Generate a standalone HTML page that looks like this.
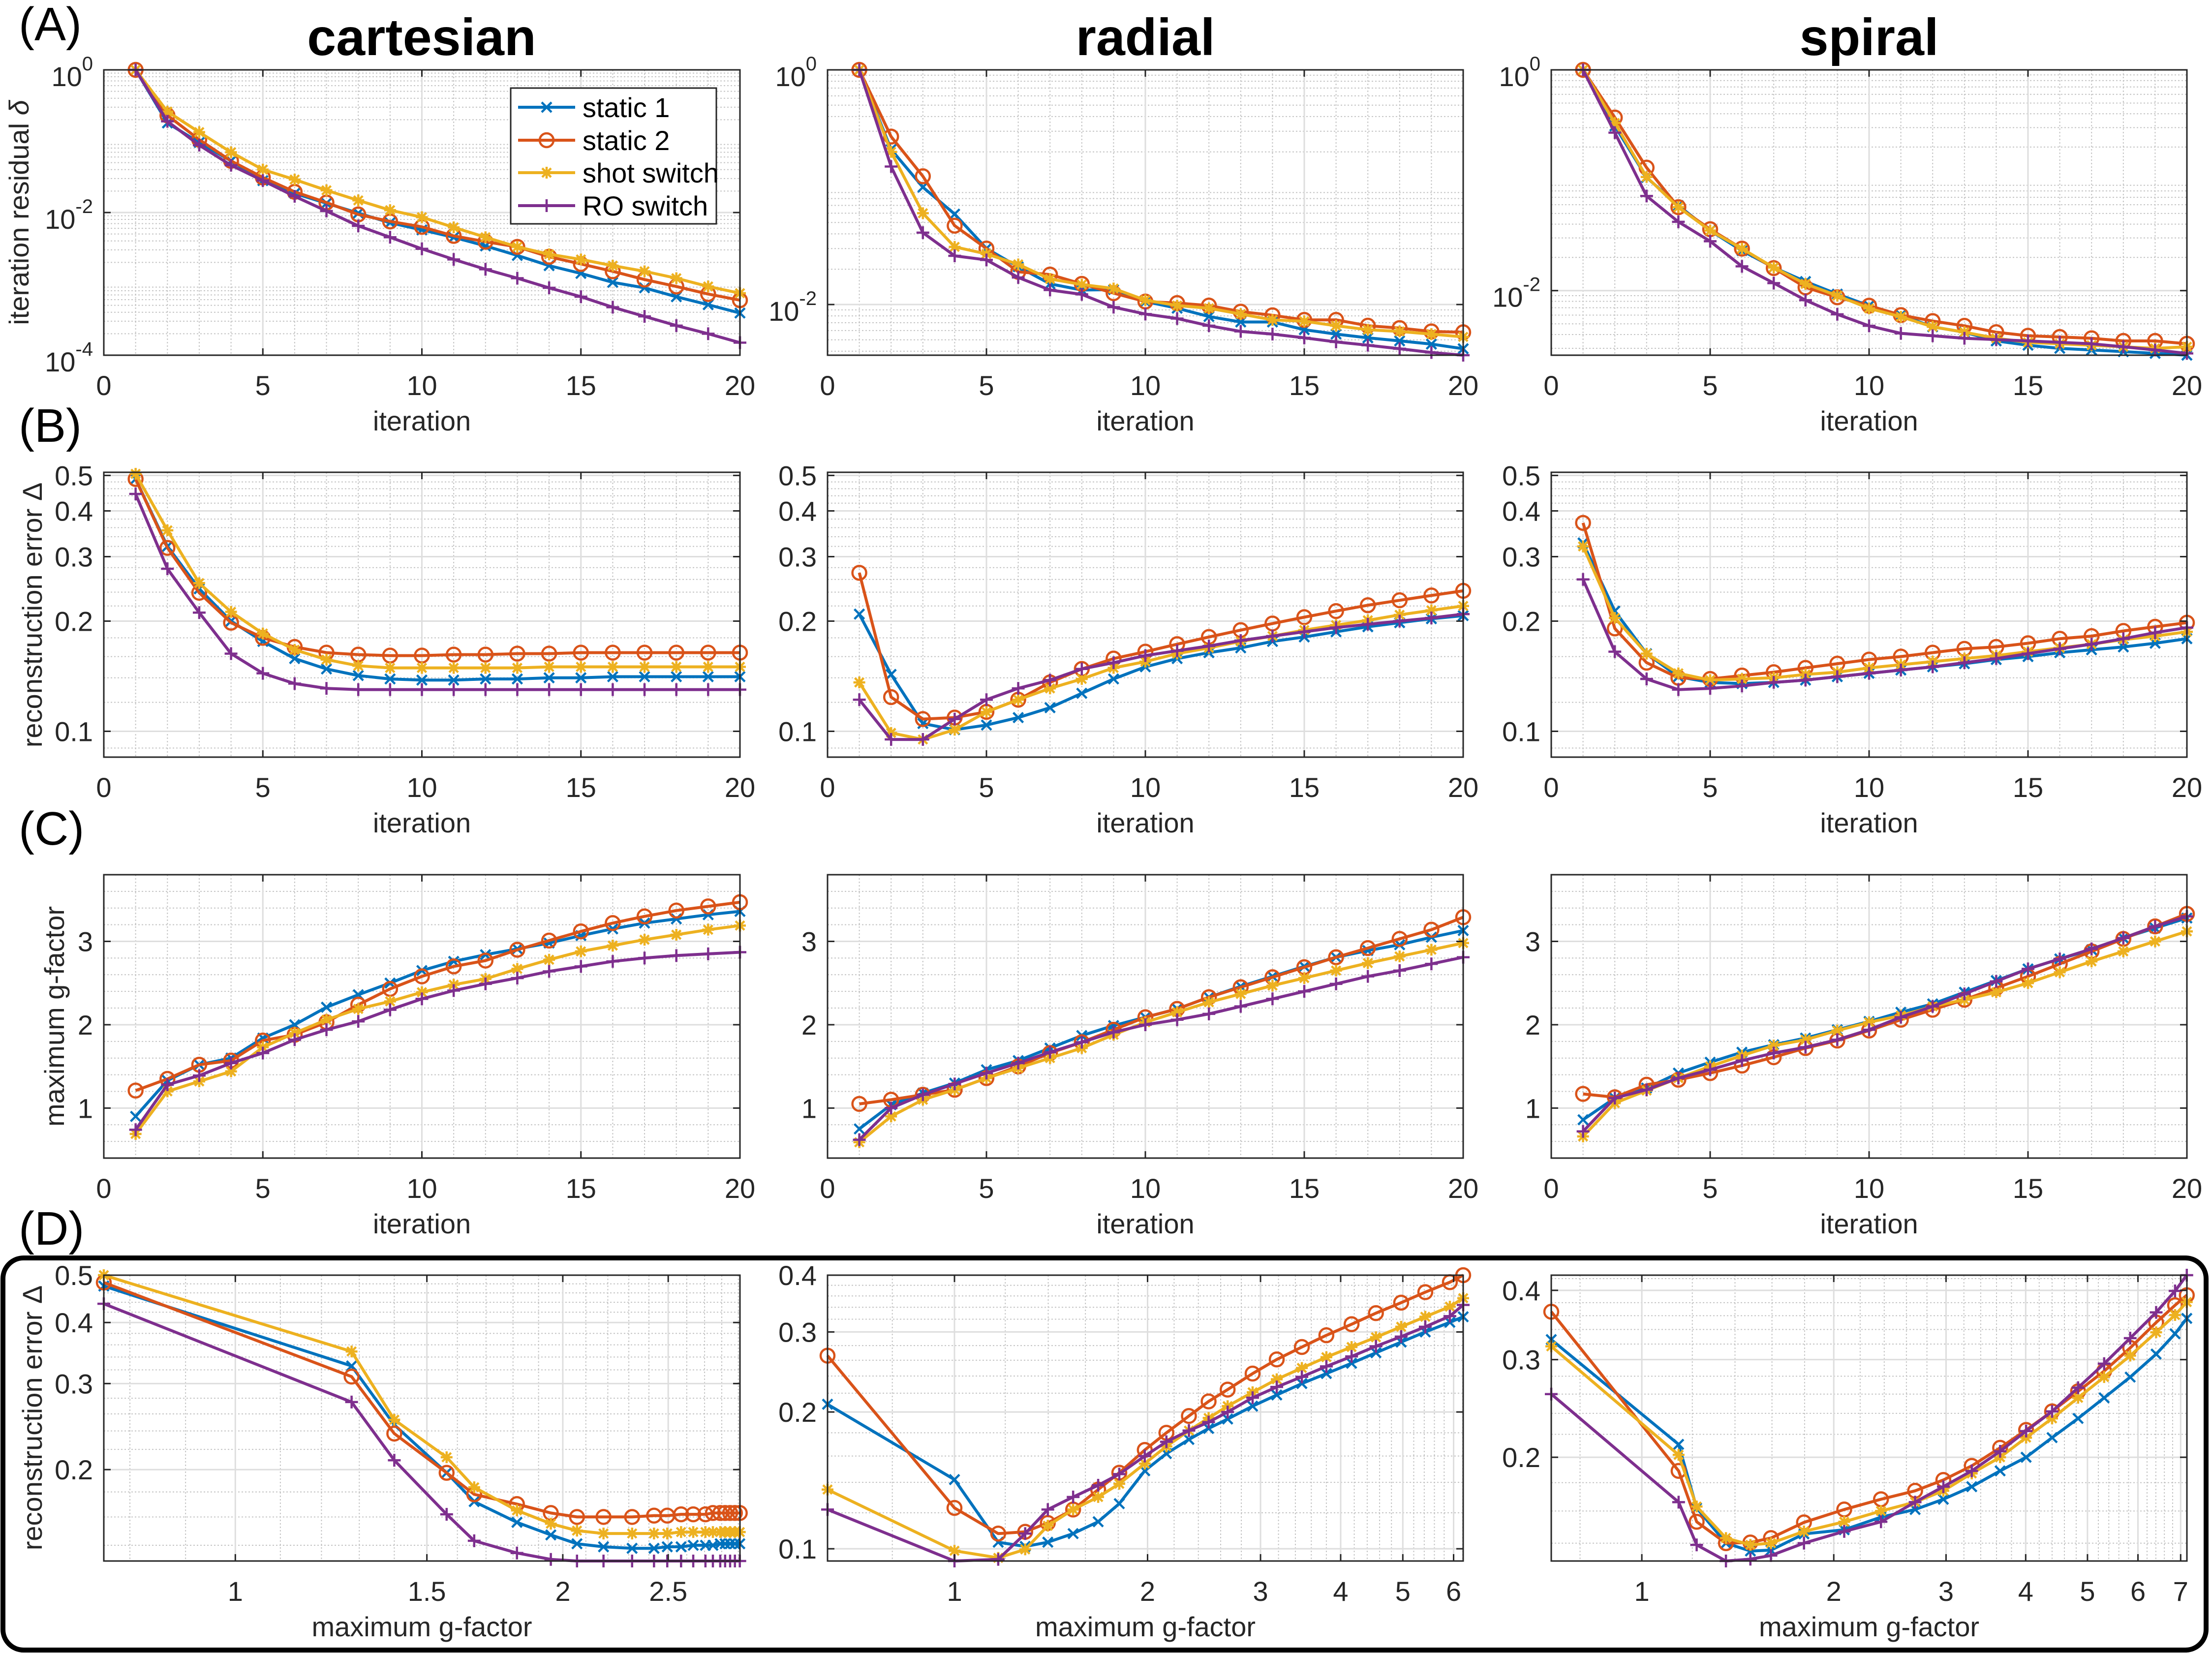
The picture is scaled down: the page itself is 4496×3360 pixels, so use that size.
<!DOCTYPE html>
<html>
<head>
<meta charset="utf-8">
<style>
  html, body { margin: 0; padding: 0; background: #ffffff; }
  svg { display: block; font-family: "Liberation Sans", Arial, sans-serif; }
</style>
</head>
<body>
<svg id="fig" xmlns="http://www.w3.org/2000/svg" width="4496" height="3360" viewBox="0 0 4496 3360">
  <rect x="0" y="0" width="4496" height="3360" fill="#ffffff"/>
</svg>
<script>
// ---------------- DATA ----------------
const iterations = [1,2,3,4,5,6,7,8,9,10,11,12,13,14,15,16,17,18,19,20];
const seriesNames = ['static 1','static 2','shot switch','RO switch'];

// Row A: iteration residual
const residualCartesianStatic1 = [1,0.18,0.096,0.053,0.028,0.0185,0.0135,0.0098,0.0072,0.0057,0.0045,0.0034,0.0025,0.0018,0.0014,0.00105,0.00088,0.00066,0.00051,0.00039];
const residualCartesianStatic2 = [1,0.23,0.105,0.053,0.031,0.0195,0.0138,0.0094,0.0075,0.0063,0.0047,0.0039,0.0033,0.0024,0.0019,0.0015,0.00115,0.00092,0.00072,0.00059];
const residualCartesianShot = [1,0.26,0.134,0.07,0.04,0.029,0.0205,0.0148,0.0108,0.0086,0.0062,0.0045,0.0033,0.0026,0.0022,0.0018,0.0015,0.0012,0.00092,0.00074];
const residualCartesianRO = [1,0.19,0.088,0.046,0.028,0.0169,0.0105,0.0065,0.0045,0.0031,0.0022,0.0016,0.0012,0.00088,0.00066,0.00047,0.00035,0.00026,0.0002,0.00015];

const residualRadialStatic1 = [1,0.21,0.1,0.059,0.030,0.021,0.015,0.0133,0.0134,0.0106,0.0093,0.0079,0.0071,0.0071,0.0061,0.0056,0.0052,0.0049,0.0046,0.0042];
const residualRadialStatic2 = [1,0.27,0.124,0.047,0.030,0.019,0.018,0.015,0.0125,0.0106,0.0103,0.0098,0.0087,0.0081,0.0074,0.0074,0.0066,0.0063,0.0059,0.0058];
const residualRadialShot = [1,0.2,0.06,0.031,0.027,0.022,0.0165,0.0148,0.0137,0.0109,0.0098,0.0093,0.0083,0.0074,0.0072,0.0066,0.0061,0.0059,0.0056,0.0053];
const residualRadialRO = [1,0.15,0.041,0.026,0.024,0.017,0.0133,0.0122,0.0095,0.0083,0.0076,0.0066,0.0059,0.0056,0.0052,0.0048,0.0045,0.0042,0.0039,0.0037];

const residualSpiralStatic1 = [1,0.31,0.106,0.059,0.035,0.023,0.0162,0.0121,0.0093,0.0073,0.006,0.0047,0.0042,0.0035,0.0032,0.003,0.0029,0.0028,0.0027,0.0026];
const residualSpiralStatic2 = [1,0.37,0.13,0.057,0.036,0.024,0.016,0.0107,0.0087,0.0073,0.006,0.0053,0.0048,0.0042,0.0039,0.0038,0.0037,0.0035,0.0035,0.0033];
const residualSpiralShot = [1,0.33,0.107,0.057,0.035,0.024,0.0162,0.0115,0.009,0.0069,0.0058,0.0047,0.0042,0.0037,0.0034,0.0033,0.0032,0.0031,0.003,0.0031];
const residualSpiralRO = [1,0.27,0.072,0.042,0.028,0.0166,0.0117,0.0082,0.0061,0.0048,0.0041,0.0039,0.0037,0.0036,0.0035,0.0034,0.0033,0.0031,0.0029,0.0027];

// Row B: reconstruction error vs iteration
const errorCartesianStatic1 = [0.489,0.32,0.245,0.2,0.176,0.158,0.148,0.142,0.139,0.138,0.138,0.139,0.139,0.14,0.14,0.141,0.141,0.141,0.141,0.141];
const errorCartesianStatic2 = [0.489,0.317,0.239,0.198,0.18,0.17,0.164,0.162,0.161,0.161,0.162,0.162,0.163,0.163,0.164,0.164,0.164,0.164,0.164,0.164];
const errorCartesianShot = [0.505,0.354,0.254,0.212,0.185,0.167,0.157,0.151,0.149,0.149,0.149,0.149,0.149,0.15,0.15,0.15,0.15,0.15,0.15,0.15];
const errorCartesianRO = [0.445,0.278,0.211,0.163,0.144,0.135,0.131,0.13,0.13,0.13,0.13,0.13,0.13,0.13,0.13,0.13,0.13,0.13,0.13,0.13];

const errorRadialStatic1 = [0.209,0.143,0.105,0.101,0.104,0.109,0.116,0.127,0.139,0.15,0.158,0.164,0.169,0.176,0.181,0.187,0.193,0.198,0.203,0.207];
const errorRadialStatic2 = [0.271,0.124,0.108,0.109,0.113,0.122,0.136,0.148,0.158,0.165,0.173,0.181,0.189,0.197,0.205,0.213,0.221,0.228,0.235,0.242];
const errorRadialShot = [0.136,0.099,0.095,0.101,0.113,0.122,0.131,0.139,0.149,0.155,0.163,0.169,0.176,0.182,0.189,0.195,0.201,0.208,0.214,0.22];
const errorRadialRO = [0.122,0.095,0.095,0.108,0.122,0.131,0.138,0.148,0.154,0.161,0.166,0.171,0.177,0.182,0.187,0.192,0.196,0.2,0.204,0.209];

const errorSpiralStatic1 = [0.327,0.213,0.163,0.141,0.136,0.135,0.136,0.138,0.141,0.144,0.147,0.15,0.153,0.157,0.16,0.164,0.167,0.17,0.174,0.179];
const errorSpiralStatic2 = [0.371,0.191,0.154,0.14,0.139,0.142,0.145,0.149,0.153,0.157,0.16,0.164,0.168,0.17,0.174,0.179,0.182,0.188,0.193,0.198];
const errorSpiralShot = [0.32,0.204,0.163,0.144,0.138,0.139,0.14,0.143,0.145,0.149,0.152,0.155,0.158,0.161,0.165,0.169,0.173,0.178,0.182,0.187];
const errorSpiralRO = [0.26,0.165,0.139,0.13,0.131,0.133,0.136,0.138,0.141,0.144,0.147,0.15,0.154,0.158,0.163,0.168,0.173,0.179,0.186,0.192];

// Row C: maximum g-factor vs iteration
const gfactorCartesianStatic1 = [0.9,1.33,1.52,1.6,1.84,2.0,2.21,2.36,2.5,2.65,2.76,2.84,2.91,2.98,3.07,3.15,3.22,3.27,3.32,3.36];
const gfactorCartesianStatic2 = [1.21,1.35,1.52,1.57,1.81,1.88,2.03,2.24,2.43,2.58,2.7,2.77,2.9,3.01,3.12,3.22,3.3,3.37,3.42,3.47];
const gfactorCartesianShot = [0.69,1.2,1.32,1.44,1.73,1.9,2.06,2.19,2.28,2.39,2.48,2.55,2.67,2.78,2.88,2.95,3.02,3.08,3.14,3.19];
const gfactorCartesianRO = [0.74,1.28,1.39,1.54,1.66,1.82,1.94,2.04,2.18,2.31,2.41,2.49,2.56,2.64,2.7,2.76,2.8,2.83,2.85,2.87];

const gfactorRadialStatic1 = [0.75,1.04,1.18,1.3,1.46,1.57,1.72,1.87,1.99,2.09,2.19,2.33,2.46,2.58,2.7,2.81,2.89,2.96,3.05,3.13];
const gfactorRadialStatic2 = [1.05,1.1,1.16,1.22,1.36,1.5,1.66,1.79,1.94,2.09,2.19,2.33,2.45,2.57,2.69,2.81,2.92,3.03,3.14,3.29];
const gfactorRadialShot = [0.59,0.9,1.1,1.22,1.36,1.48,1.6,1.72,1.88,2.03,2.15,2.27,2.37,2.47,2.56,2.65,2.74,2.82,2.9,2.98];
const gfactorRadialRO = [0.62,1.0,1.16,1.29,1.42,1.54,1.67,1.79,1.91,2.0,2.06,2.13,2.22,2.31,2.4,2.49,2.58,2.65,2.73,2.81];

const gfactorSpiralStatic1 = [0.86,1.12,1.24,1.42,1.55,1.67,1.76,1.84,1.94,2.04,2.15,2.25,2.39,2.53,2.67,2.79,2.9,3.04,3.16,3.28];
const gfactorSpiralStatic2 = [1.17,1.13,1.28,1.34,1.42,1.51,1.61,1.72,1.81,1.93,2.06,2.18,2.3,2.44,2.58,2.73,2.88,3.03,3.18,3.33];
const gfactorSpiralShot = [0.66,1.06,1.21,1.36,1.5,1.63,1.75,1.82,1.93,2.03,2.11,2.22,2.3,2.39,2.5,2.63,2.76,2.88,3.0,3.12];
const gfactorSpiralRO = [0.72,1.12,1.22,1.36,1.46,1.57,1.66,1.73,1.82,1.94,2.09,2.22,2.37,2.52,2.67,2.79,2.91,3.04,3.18,3.3];

// Row D: reconstruction error vs maximum g-factor
const tradeoffCartesianG = [0.757,1.279,1.4,1.564,1.658,1.815,1.95,2.061,2.18,2.316,2.426,2.495,2.569,2.636,2.705,2.748,2.791,2.82,2.85,2.879,2.909];
const tradeoffCartesianStatic1 = [0.475,0.326,0.247,0.197,0.172,0.156,0.147,0.141,0.139,0.138,0.138,0.139,0.139,0.14,0.14,0.14,0.141,0.141,0.141,0.141,0.141];
const tradeoffCartesianStatic2 = [0.483,0.31,0.237,0.197,0.178,0.170,0.163,0.160,0.160,0.160,0.161,0.161,0.162,0.162,0.162,0.163,0.163,0.163,0.163,0.163,0.163];
const tradeoffCartesianShot = [0.5,0.349,0.253,0.212,0.184,0.165,0.155,0.150,0.148,0.148,0.148,0.148,0.149,0.149,0.149,0.149,0.149,0.149,0.149,0.149,0.149];
const tradeoffCartesianRO = [0.437,0.275,0.209,0.162,0.143,0.135,0.131,0.13,0.13,0.13,0.13,0.13,0.13,0.13,0.13,0.13,0.13,0.13,0.13,0.13,0.13];

const tradeoffRadialG = [0.634,1.0,1.17,1.289,1.398,1.531,1.675,1.807,1.98,2.14,2.32,2.49,2.666,2.916,3.18,3.48,3.8,4.16,4.54,4.97,5.42,5.92,6.21];
const tradeoffRadialStatic1 = [0.208,0.142,0.1034,0.1012,0.1034,0.108,0.1147,0.1257,0.1485,0.162,0.174,0.184,0.193,0.206,0.218,0.231,0.243,0.256,0.27,0.285,0.3,0.315,0.324];
const tradeoffRadialStatic2 = [0.266,0.123,0.108,0.109,0.114,0.122,0.135,0.147,0.165,0.180,0.196,0.211,0.224,0.243,0.261,0.278,0.295,0.312,0.330,0.348,0.367,0.386,0.4];
const tradeoffRadialShot = [0.135,0.099,0.0955,0.0997,0.1124,0.122,0.13,0.139,0.154,0.168,0.182,0.194,0.206,0.221,0.236,0.25,0.264,0.278,0.292,0.308,0.324,0.341,0.356];
const tradeoffRadialRO = [0.122,0.094,0.0948,0.108,0.122,0.13,0.138,0.146,0.16,0.172,0.182,0.19,0.2,0.215,0.227,0.239,0.252,0.265,0.279,0.293,0.308,0.325,0.344];

const tradeoffSpiralG = [0.721,1.142,1.219,1.355,1.48,1.594,1.796,2.077,2.372,2.683,2.971,3.292,3.647,4.006,4.4,4.833,5.31,5.834,6.407,6.86,7.157];
const tradeoffSpiralStatic1 = [0.326,0.211,0.162,0.14,0.1355,0.136,0.1455,0.148,0.156,0.161,0.168,0.177,0.189,0.2,0.217,0.235,0.256,0.279,0.307,0.334,0.356];
const tradeoffSpiralStatic2 = [0.366,0.189,0.153,0.14,0.1404,0.143,0.1526,0.161,0.168,0.174,0.182,0.193,0.208,0.224,0.242,0.263,0.286,0.315,0.35,0.376,0.392];
const tradeoffSpiralShot = [0.317,0.202,0.163,0.143,0.139,0.14,0.147,0.153,0.16,0.166,0.174,0.187,0.2,0.217,0.235,0.256,0.279,0.305,0.336,0.361,0.381];
const tradeoffSpiralRO = [0.260,0.166,0.139,0.13,0.131,0.133,0.140,0.147,0.153,0.166,0.177,0.189,0.205,0.223,0.242,0.267,0.295,0.328,0.365,0.399,0.426];

// Tick values / labels
const iterationTicks = [0,5,10,15,20];
const iterationTickLabels = ['0','5','10','15','20'];
const residualTicksCartesian = [1,0.01,0.0001];
const residualTickLabelsCartesian = [['10','0'],['10','-2'],['10','-4']];
const residualTicksOther = [1,0.01];
const residualTickLabelsOther = [['10','0'],['10','-2']];
const errorTicks = [0.1,0.2,0.3,0.4,0.5];
const errorTickLabels = ['0.1','0.2','0.3','0.4','0.5'];
const gfactorTicks = [1,2,3];
const gfactorTickLabels = ['1','2','3'];
const tradeoffXTicksCartesian = [1,1.5,2,2.5];
const tradeoffXTickLabelsCartesian = ['1','1.5','2','2.5'];
const tradeoffXTicksRadial = [1,2,3,4,5,6];
const tradeoffXTickLabelsRadial = ['1','2','3','4','5','6'];
const tradeoffXTicksSpiral = [1,2,3,4,5,6,7];
const tradeoffXTickLabelsSpiral = ['1','2','3','4','5','6','7'];
const tradeoffYTicksCartesian = [0.2,0.3,0.4,0.5];
const tradeoffYTickLabelsCartesian = ['0.2','0.3','0.4','0.5'];
const tradeoffYTicksRadial = [0.1,0.2,0.3,0.4];
const tradeoffYTickLabelsRadial = ['0.1','0.2','0.3','0.4'];
const tradeoffYTicksSpiral = [0.2,0.3,0.4];
const tradeoffYTickLabelsSpiral = ['0.2','0.3','0.4'];

// ---------------- DRAWING ----------------
const NS = 'http://www.w3.org/2000/svg';
const svg = document.getElementById('fig');
const COLORS = ['#0072BD','#D95319','#EDB120','#7E2F8E'];
const MARKERS = ['x','o','*','+'];
const TXT = '#262626';

function el(tag, attrs, parent) {
  const e = document.createElementNS(NS, tag);
  for (const k in attrs) e.setAttribute(k, attrs[k]);
  (parent || svg).appendChild(e);
  return e;
}
function scale(type, d0, d1, p0, p1) {
  if (type === 'log') {
    const a = Math.log10(d0), b = Math.log10(d1);
    return v => p0 + (Math.log10(v) - a) / (b - a) * (p1 - p0);
  }
  return v => p0 + (v - d0) / (d1 - d0) * (p1 - p0);
}
function range(a, b, s) { const out = []; for (let v = a; v <= b + 1e-9; v += s) out.push(Math.round(v * 1000) / 1000); return out; }
function logMinor(d0, d1) {
  const out = [];
  for (let e = Math.floor(Math.log10(d0)); e <= Math.ceil(Math.log10(d1)); e++)
    for (let k = 2; k <= 9; k++) { const v = k * Math.pow(10, e); if (v > d0 && v < d1) out.push(v); }
  return out;
}

function drawMarker(g, type, x, y, color) {
  const sw = 4.5;
  let m;
  if (type === 'o') {
    m = el('circle', {cx: x, cy: y, r: 14, fill: 'none', stroke: color, 'stroke-width': sw}, g);
  } else {
    let d = '';
    if (type === 'x' || type === '*') { const s = type === 'x' ? 10 : 9; d += `M${x-s},${y-s}L${x+s},${y+s}M${x-s},${y+s}L${x+s},${y-s}`; }
    if (type === '+' || type === '*') { const s = type === '+' ? 13 : 12; d += `M${x-s},${y}L${x+s},${y}M${x},${y-s}L${x},${y+s}`; }
    m = el('path', {d: d, fill: 'none', stroke: color, 'stroke-width': sw}, g);
  }
  return m;
}

function drawPanel(p) {
  const g = el('g', {});
  
  
  const {l, r, t, b} = p.box;
  const sx = scale(p.xType, p.xDom[0], p.xDom[1], l, r);
  const sy = scale(p.yType, p.yDom[0], p.yDom[1], b, t);
  const inX = v => v > p.xDom[0] && v < p.xDom[1];
  const inY = v => v > p.yDom[0] && v < p.yDom[1];

  const bg = el('rect', {x: l, y: t, width: r - l, height: b - t, fill: '#ffffff'}, g);
  
  

  // grid
  const grid = el('g', {}, g);
  
  
  p.xMinor.forEach(v => { if (p.xTicks.indexOf(v) < 0 && inX(v)) { const X = sx(v); el('line', {x1: X, x2: X, y1: t, y2: b, stroke: '#c4c4c4', 'stroke-width': 2, 'stroke-dasharray': '3 4'}, grid); } });
  p.yMinor.forEach(v => { if (p.yTicks.indexOf(v) < 0 && inY(v)) { const Y = sy(v); el('line', {x1: l, x2: r, y1: Y, y2: Y, stroke: '#c4c4c4', 'stroke-width': 2, 'stroke-dasharray': '3 4'}, grid); } });
  p.xTicks.forEach(v => { const X = sx(v); el('line', {x1: X, x2: X, y1: t, y2: b, stroke: '#dedede', 'stroke-width': 3}, grid); });
  p.yTicks.forEach(v => { const Y = sy(v); el('line', {x1: l, x2: r, y1: Y, y2: Y, stroke: '#dedede', 'stroke-width': 3}, grid); });

  // series
  p.series.forEach((s, i) => {
    const sg = el('g', {}, g);
    
    
    const pts = s.y.map((v, k) => [sx(s.x[k]), sy(v)]);
    const line = el('polyline', {points: pts.map(q => q[0].toFixed(1) + ',' + q[1].toFixed(1)).join(' '), fill: 'none', stroke: COLORS[i], 'stroke-width': 6, 'stroke-linejoin': 'round'}, sg);
    
    
    pts.forEach(q => {
      const m = drawMarker(sg, MARKERS[i], q[0], q[1], COLORS[i]);
      
      
    });
  });

  // axes box + ticks
  const ax = el('g', {}, g);
  
  
  const box = el('rect', {x: l, y: t, width: r - l, height: b - t, fill: 'none', stroke: TXT, 'stroke-width': 3}, ax);
  
  
  const tl = 14;
  p.xTicks.forEach((v, k) => {
    const X = sx(v);
    el('line', {x1: X, x2: X, y1: b, y2: b - tl, stroke: TXT, 'stroke-width': 3}, ax);
    el('line', {x1: X, x2: X, y1: t, y2: t + tl, stroke: TXT, 'stroke-width': 3}, ax);
    const tx = el('text', {x: X, y: b + 81, 'font-size': 56, fill: TXT, 'text-anchor': 'middle'}, ax);
    tx.textContent = p.xTickLabels[k];
    
    
  });
  p.yTicks.forEach((v, k) => {
    const Y = sy(v);
    el('line', {x1: l, x2: l + tl, y1: Y, y2: Y, stroke: TXT, 'stroke-width': 3}, ax);
    el('line', {x1: r, x2: r - tl, y1: Y, y2: Y, stroke: TXT, 'stroke-width': 3}, ax);
    const lab = p.yTickLabels[k];
    let tx;
    if (Array.isArray(lab)) {
      tx = el('text', {x: l - 22, y: Y + 33, 'font-size': 56, fill: TXT, 'text-anchor': 'end'}, ax);
      const base = el('tspan', {}, tx); base.textContent = lab[0];
      const sup = el('tspan', {dy: -32, 'font-size': 40}, tx); sup.textContent = lab[1];
    } else {
      tx = el('text', {x: l - 22, y: Y + 20, 'font-size': 56, fill: TXT, 'text-anchor': 'end'}, ax);
      tx.textContent = lab;
    }
    
    
  });

  const xl = el('text', {x: (l + r) / 2, y: b + 153, 'font-size': 56, fill: TXT, 'text-anchor': 'middle'}, g);
  xl.textContent = p.xLabel;
  
  
}

const cols = [{l: 211, r: 1504}, {l: 1682, r: 2974}, {l: 3153, r: 4445}];
const rows = {A: {t: 142, b: 722}, B: {t: 960, b: 1539}, C: {t: 1778, b: 2354}, D: {t: 2592, b: 3173}};
const colNames = ['cartesian', 'radial', 'spiral'];

const rowAData = [
  [residualCartesianStatic1, residualCartesianStatic2, residualCartesianShot, residualCartesianRO],
  [residualRadialStatic1, residualRadialStatic2, residualRadialShot, residualRadialRO],
  [residualSpiralStatic1, residualSpiralStatic2, residualSpiralShot, residualSpiralRO]];
const rowBData = [
  [errorCartesianStatic1, errorCartesianStatic2, errorCartesianShot, errorCartesianRO],
  [errorRadialStatic1, errorRadialStatic2, errorRadialShot, errorRadialRO],
  [errorSpiralStatic1, errorSpiralStatic2, errorSpiralShot, errorSpiralRO]];
const rowCData = [
  [gfactorCartesianStatic1, gfactorCartesianStatic2, gfactorCartesianShot, gfactorCartesianRO],
  [gfactorRadialStatic1, gfactorRadialStatic2, gfactorRadialShot, gfactorRadialRO],
  [gfactorSpiralStatic1, gfactorSpiralStatic2, gfactorSpiralShot, gfactorSpiralRO]];
const rowDData = [
  [tradeoffCartesianStatic1, tradeoffCartesianStatic2, tradeoffCartesianShot, tradeoffCartesianRO],
  [tradeoffRadialStatic1, tradeoffRadialStatic2, tradeoffRadialShot, tradeoffRadialRO],
  [tradeoffSpiralStatic1, tradeoffSpiralStatic2, tradeoffSpiralShot, tradeoffSpiralRO]];
const rowDX = [tradeoffCartesianG, tradeoffRadialG, tradeoffSpiralG];
const residualYDom = [[1e-4, 1], [0.0037, 1], [0.0026, 1]];
const tradeoffXDom = [[0.757, 2.91], [0.634, 6.21], [0.721, 7.16]];
const tradeoffYDom = [[0.13, 0.5], [0.094, 0.4], [0.13, 0.426]];
const tradeoffXTicks = [tradeoffXTicksCartesian, tradeoffXTicksRadial, tradeoffXTicksSpiral];
const tradeoffXTickLabels = [tradeoffXTickLabelsCartesian, tradeoffXTickLabelsRadial, tradeoffXTickLabelsSpiral];
const tradeoffYTicks = [tradeoffYTicksCartesian, tradeoffYTicksRadial, tradeoffYTicksSpiral];
const tradeoffYTickLabels = [tradeoffYTickLabelsCartesian, tradeoffYTickLabelsRadial, tradeoffYTickLabelsSpiral];
const tradeoffXMinor = [range(0.8, 2.9, 0.1), range(0.8, 6.2, 0.2), range(0.8, 7.0, 0.2)];

for (let c = 0; c < 3; c++) {
  const xbox = cols[c];
  drawPanel({
    name: 'panel-a-' + colNames[c], box: {l: xbox.l, r: xbox.r, t: rows.A.t, b: rows.A.b},
    xType: 'lin', xDom: [0, 20], yType: 'log', yDom: residualYDom[c],
    xTicks: iterationTicks, xTickLabels: iterationTickLabels, xMinor: range(1, 19, 1),
    yTicks: c === 0 ? residualTicksCartesian : residualTicksOther,
    yTickLabels: c === 0 ? residualTickLabelsCartesian : residualTickLabelsOther,
    yMinor: logMinor(residualYDom[c][0], 1), xLabel: 'iteration',
    series: rowAData[c].map(y => ({x: iterations, y: y}))
  });
  drawPanel({
    name: 'panel-b-' + colNames[c], box: {l: xbox.l, r: xbox.r, t: rows.B.t, b: rows.B.b},
    xType: 'lin', xDom: [0, 20], yType: 'log', yDom: [0.085, 0.51],
    xTicks: iterationTicks, xTickLabels: iterationTickLabels, xMinor: range(1, 19, 1),
    yTicks: errorTicks, yTickLabels: errorTickLabels,
    yMinor: [0.09].concat(range(0.12, 0.48, 0.02)), xLabel: 'iteration',
    series: rowBData[c].map(y => ({x: iterations, y: y}))
  });
  drawPanel({
    name: 'panel-c-' + colNames[c], box: {l: xbox.l, r: xbox.r, t: rows.C.t, b: rows.C.b},
    xType: 'lin', xDom: [0, 20], yType: 'lin', yDom: [0.4, 3.8],
    xTicks: iterationTicks, xTickLabels: iterationTickLabels, xMinor: range(1, 19, 1),
    yTicks: gfactorTicks, yTickLabels: gfactorTickLabels,
    yMinor: range(0.6, 3.6, 0.2), xLabel: 'iteration',
    series: rowCData[c].map(y => ({x: iterations, y: y}))
  });
  drawPanel({
    name: 'panel-d-' + colNames[c], box: {l: xbox.l, r: xbox.r, t: rows.D.t, b: rows.D.b},
    xType: 'log', xDom: tradeoffXDom[c], yType: 'log', yDom: tradeoffYDom[c],
    xTicks: tradeoffXTicks[c], xTickLabels: tradeoffXTickLabels[c], xMinor: tradeoffXMinor[c],
    yTicks: tradeoffYTicks[c], yTickLabels: tradeoffYTickLabels[c],
    yMinor: range(0.1, 0.5, 0.02), xLabel: 'maximum g-factor',
    series: rowDData[c].map(y => ({x: rowDX[c], y: y}))
  });
}

// Column titles
const titleX = [857, 2328, 3799];
colNames.forEach((n, i) => {
  const t = el('text', {x: titleX[i], y: 112, 'font-size': 106, 'font-weight': 'bold', fill: '#000', 'text-anchor': 'middle'});
  t.textContent = n;
  
  
});

// Panel letters
const letters = [['(A)', 82], ['(B)', 898], ['(C)', 1717], ['(D)', 2530]];
letters.forEach(L => {
  const t = el('text', {x: 38, y: L[1], 'font-size': 96, fill: '#000'});
  t.textContent = L[0];
  
  
});

// Y-axis titles (first column)
function yTitle(x, yc, parts, name) {
  const t = el('text', {x: x, y: yc, 'font-size': 56, fill: TXT, 'text-anchor': 'middle', transform: `rotate(-90 ${x} ${yc})`});
  parts.forEach(pt => { const s = el('tspan', pt[1] ? {'font-style': 'italic'} : {}, t); s.textContent = pt[0]; });
  
  
}
yTitle(58, 432, [['iteration residual ', false], ['δ', true]], 'y-axis-title-residual');
yTitle(85, 1250, [['reconstruction error Δ', false]], 'y-axis-title-error');
yTitle(130, 2066, [['maximum g-factor', false]], 'y-axis-title-gfactor');
yTitle(85, 2882, [['reconstruction error Δ', false]], 'y-axis-title-tradeoff');

// Legend
const lg = el('g', {});


el('rect', {x: 1038, y: 179, width: 418, height: 276, fill: '#ffffff', stroke: TXT, 'stroke-width': 3}, lg);
const legendY = [218, 285, 351, 418];
seriesNames.forEach((n, i) => {
  const eg = el('g', {}, lg);
  
  
  el('line', {x1: 1053, x2: 1169, y1: legendY[i], y2: legendY[i], stroke: COLORS[i], 'stroke-width': 6}, eg);
  drawMarker(eg, MARKERS[i], 1111, legendY[i], COLORS[i]);
  const t = el('text', {x: 1184, y: legendY[i] + 20, 'font-size': 56, fill: '#000'}, eg);
  t.textContent = n;
});

// Rounded frame around row D
const frame = el('rect', {x: 6, y: 2557, width: 4478, height: 797, rx: 42, ry: 42, fill: 'none', stroke: '#000', 'stroke-width': 10});


</script>
</body>
</html>
